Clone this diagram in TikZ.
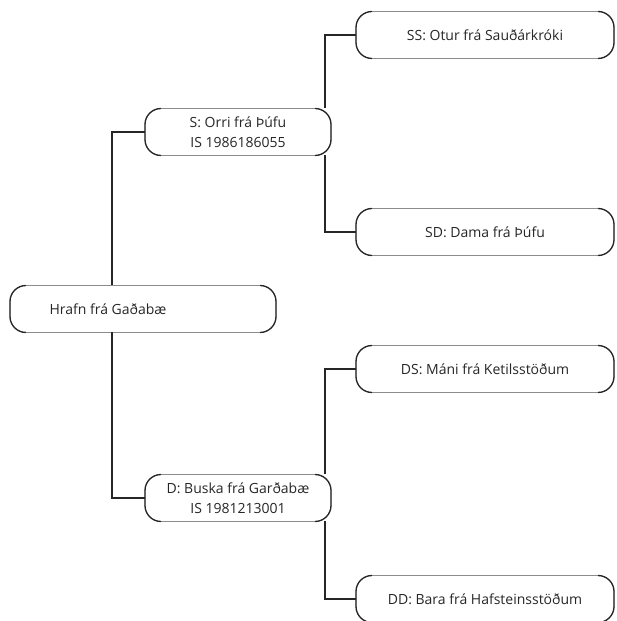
\documentclass[tikz,border=0pt]{standalone}
\usepackage{fontspec}
\setmainfont{Open Sans}
\usepackage{tikz}

% black ends on the rounded boxes
\newcommand{\darkends}[1]{%
  \draw[endline] ([xshift=16pt]#1.north west) arc[start angle=90,end angle=180,radius=16pt]
    -- ([yshift=16pt]#1.south west) arc[start angle=180,end angle=270,radius=16pt];
  \draw[endline] ([xshift=-16pt]#1.north east) arc[start angle=90,end angle=0,radius=16pt]
    -- ([yshift=16pt]#1.south east) arc[start angle=0,end angle=-90,radius=16pt];
}

\begin{document}
\begin{tikzpicture}[x=1pt, y=1pt,
    horse/.style={draw=black!45, line width=0.8pt, rounded corners=16pt, minimum width=258pt,
      minimum height=47pt, inner sep=0pt, outer sep=0pt, align=center,
      font=\fontsize{14}{20}\selectfont, text=black!85},
    parent/.style={horse, minimum width=186pt},
    endline/.style={black!85, line width=1.3pt},
    link/.style={black!85, line width=1.2pt},
  ]
  \clip (0,0) rectangle (616,621);
  \useasboundingbox (0,0) rectangle (616,621);

  \node[horse, minimum width=266pt] (hrafn) at (143,312) {\hspace*{-70pt}Hrafn frá Gaðabæ};
  \node[parent] (sire) at (238,489) {S: Orri frá Þúfu\\IS 1986186055};
  \node[parent] (dam) at (238,123) {D: Buska frá Garðabæ\\IS 1981213001};
  \node[horse] (ss) at (485,586) {SS: Otur frá Sauðárkróki};
  \node[horse] (sd) at (485,389) {SD: Dama frá Þúfu};
  \node[horse] (ds) at (485,252) {DS: Máni frá Ketilsstöðum};
  \node[horse] (dd) at (485,22) {DD: Bara frá Hafsteinsstöðum};

  \darkends{hrafn}
  \darkends{sire}
  \darkends{dam}
  \darkends{ss}
  \darkends{sd}
  \darkends{ds}
  \darkends{dd}

  \draw[link] ([xshift=-31pt]hrafn.north) |- (sire.west);
  \draw[link] ([xshift=-31pt]hrafn.south) |- (dam.west);
  \draw[link] ([xshift=87pt]sire.north) |- (ss.west);
  \draw[link] ([xshift=87pt]sire.south) |- (sd.west);
  \draw[link] ([xshift=87pt]dam.north) |- (ds.west);
  \draw[link] ([xshift=87pt]dam.south) |- (dd.west);
\end{tikzpicture}
\end{document}
